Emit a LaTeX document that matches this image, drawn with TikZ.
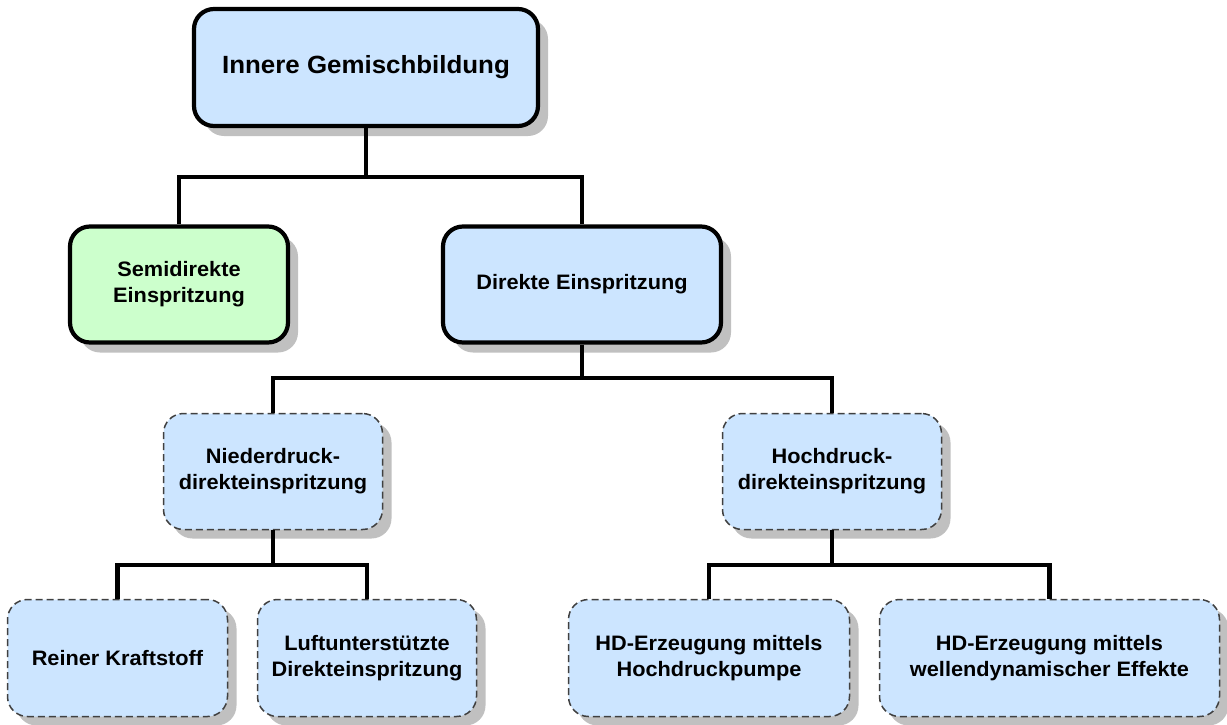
\documentclass[tikz,border=0pt]{standalone}
\usepackage{fontspec}
\setmainfont{Liberation Sans}[FakeStretch=1.04]
\usetikzlibrary{shadows}
\definecolor{boxblue}{HTML}{CCE5FF}
\definecolor{boxgreen}{HTML}{CCFFCC}
\definecolor{shadowgray}{HTML}{C0C0C0}
\definecolor{dashgray}{HTML}{404040}
\tikzset{
  base/.style={rounded corners=20pt, align=center, inner sep=0pt,
    font=\bfseries\fontsize{20.9}{26}\selectfont},
  solidbox/.style={base, draw=black, line width=4.2pt,
    drop shadow={shadow xshift=10pt, shadow yshift=-10pt, fill=shadowgray, opacity=1}},
  dashbox/.style={base, fill=boxblue, draw=dashgray, line width=1.5pt,
    dash pattern=on 7pt off 4pt,
    drop shadow={shadow xshift=9pt, shadow yshift=-9pt, fill=shadowgray, opacity=1}},
  link/.style={line width=4.5pt, black},
}
\begin{document}
\begin{tikzpicture}[x=1pt, y=1pt]
  \useasboundingbox (0,0) rectangle (1227,-724);

  % level 0
  \node[solidbox, fill=boxblue, minimum width=344pt, minimum height=117pt,
        font=\bfseries\fontsize{24.9}{30}\selectfont]
    (top) at (366,-67.5) {Innere Gemischbildung};

  % level 1
  \node[solidbox, fill=boxgreen, minimum width=218pt, minimum height=116pt]
    (semi) at (179,-284.5) {Semidirekte\\Einspritzung};
  \node[solidbox, fill=boxblue, minimum width=278pt, minimum height=116pt]
    (dir) at (582,-284.5) {Direkte Einspritzung};

  % level 2
  \node[dashbox, minimum width=219pt, minimum height=116pt]
    (nd) at (273,-471.5) {Niederdruck-\\direkteinspritzung};
  \node[dashbox, minimum width=219pt, minimum height=116pt]
    (hd) at (832,-471.5) {Hochdruck-\\direkteinspritzung};

  % level 3
  \node[dashbox, minimum width=220pt, minimum height=117pt]
    (rk) at (117.5,-658) {Reiner Kraftstoff};
  \node[dashbox, minimum width=219pt, minimum height=117pt]
    (lu) at (367,-658) {Luftunterstützte\\Direkteinspritzung};
  \node[dashbox, minimum width=281pt, minimum height=117pt]
    (hp) at (709,-658) {HD-Erzeugung mittels\\Hochdruckpumpe};
  \node[dashbox, minimum width=340pt, minimum height=117pt]
    (we) at (1049.5,-658) {HD-Erzeugung mittels\\wellendynamischer Effekte};

  % bus heights
  \coordinate (b1) at (0,-177);
  \coordinate (b2) at (0,-378);
  \coordinate (b3) at (0,-565);

  % connectors
  \draw[link] (top.south) -- (top.south |- b1);
  \draw[link] (semi.north) |- (dir.north |- b1) -- (dir.north);

  \draw[link] (dir.south) -- (dir.south |- b2);
  \draw[link] (nd.north) |- (hd.north |- b2) -- (hd.north);

  \draw[link] (nd.south) -- (nd.south |- b3);
  \draw[link] (rk.north) |- (lu.north |- b3) -- (lu.north);

  \draw[link] (hd.south) -- (hd.south |- b3);
  \draw[link] (hp.north) |- (we.north |- b3) -- (we.north);
\end{tikzpicture}
\end{document}
